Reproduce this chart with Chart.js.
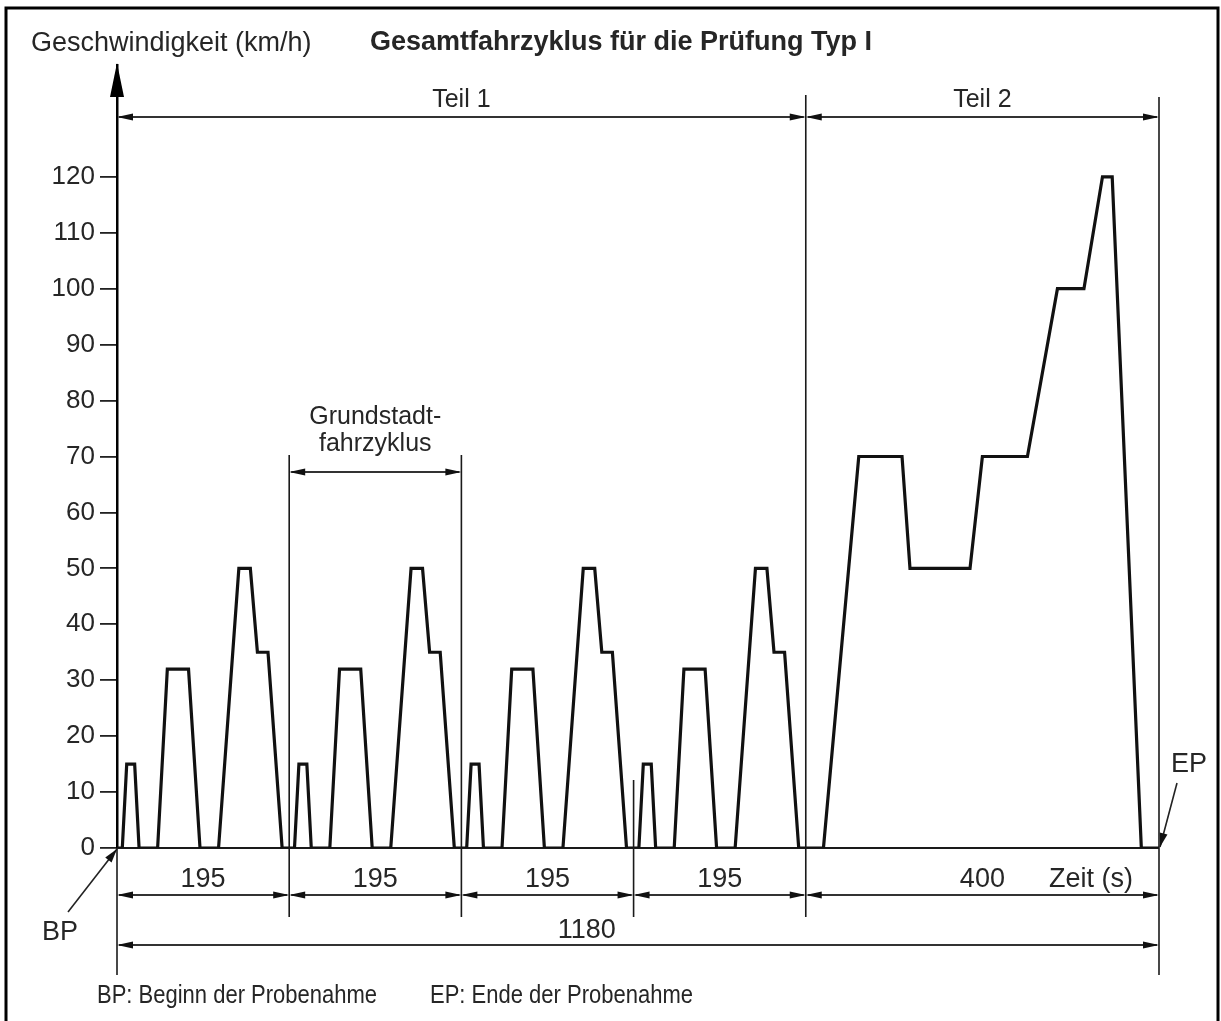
<!DOCTYPE html>
<html>
<head>
<meta charset="utf-8">
<script src="https://cdn.jsdelivr.net/npm/chart.js@4.4.1/dist/chart.umd.min.js"></script>
<style>
html,body{margin:0;padding:0;background:#fff;}
canvas{display:block;}
</style>
</head>
<body>
<canvas id="c" width="1221" height="1021"></canvas>
<script>
// ---- Data ----
const timeS = [
  0, 6, 11, 20, 25, 46, 57, 81, 94, 115, 138, 151, 159, 171, 187,
  195, 201, 206, 215, 220, 241, 252, 276, 289, 310, 333, 346, 354, 366, 382,
  390, 396, 401, 410, 415, 436, 447, 471, 484, 505, 528, 541, 549, 561, 577,
  585, 591, 596, 605, 610, 631, 642, 666, 679, 700, 723, 736, 744, 756, 772,
  780, 800, 840, 889, 898, 966, 980, 1031, 1065, 1095, 1116, 1127, 1160, 1180
];
const speedKmh = [
  0, 0, 15, 15, 0, 0, 32, 32, 0, 0, 50, 50, 35, 35, 0,
  0, 0, 15, 15, 0, 0, 32, 32, 0, 0, 50, 50, 35, 35, 0,
  0, 0, 15, 15, 0, 0, 32, 32, 0, 0, 50, 50, 35, 35, 0,
  0, 0, 15, 15, 0, 0, 32, 32, 0, 0, 50, 50, 35, 35, 0,
  0, 0, 70, 70, 50, 50, 70, 70, 100, 100, 120, 120, 0, 0
];
const yTickValues = [0, 10, 20, 30, 40, 50, 60, 70, 80, 90, 100, 110, 120];
const cycleBounds = [0, 195, 390, 585, 780, 1180];
const cycleLabels = ['195', '195', '195', '195', '400'];
const partBounds = [0, 780, 1180];
const partLabels = ['Teil 1', 'Teil 2'];
const baseCycleBounds = [195, 390];
const baseCycleLabel = ['Grundstadt-', 'fahrzyklus'];
const totalBounds = [0, 1180];
const totalLabel = '1180';
const totalLabelAt = 532;
const titleText = 'Gesamtfahrzyklus für die Prüfung Typ I';
const yTitleText = 'Geschwindigkeit (km/h)';
const xTitleText = 'Zeit (s)';
const footerTexts = ['BP: Beginn der Probenahme', 'EP: Ende der Probenahme'];
const markerTexts = ['BP', 'EP'];

const FONT = '"Liberation Sans", Arial, Helvetica, sans-serif';
const TXT = '#262626';
const LINE = '#1a1a1a';

function arrowHead(ctx, x, y, dir, len, hw) {
  ctx.beginPath();
  ctx.moveTo(x, y);
  ctx.lineTo(x - dir * len, y - hw);
  ctx.lineTo(x - dir * len, y + hw);
  ctx.closePath();
  ctx.fill();
}
function dimLine(ctx, x1, x2, y) {
  ctx.beginPath();
  ctx.moveTo(x1 + 2, y);
  ctx.lineTo(x2 - 2, y);
  ctx.stroke();
  arrowHead(ctx, x1, y, -1, 16, 3.5);
  arrowHead(ctx, x2, y, 1, 16, 3.5);
}
function vLine(ctx, x, y1, y2) {
  ctx.beginPath();
  ctx.moveTo(x, y1);
  ctx.lineTo(x, y2);
  ctx.stroke();
}
function slantArrow(ctx, x1, y1, x2, y2) {
  ctx.beginPath();
  ctx.moveTo(x1, y1);
  ctx.lineTo(x2, y2);
  ctx.stroke();
  const a = Math.atan2(y2 - y1, x2 - x1);
  const len = 14, hw = 4;
  ctx.beginPath();
  ctx.moveTo(x2, y2);
  ctx.lineTo(x2 - len * Math.cos(a) + hw * Math.sin(a), y2 - len * Math.sin(a) - hw * Math.cos(a));
  ctx.lineTo(x2 - len * Math.cos(a) - hw * Math.sin(a), y2 - len * Math.sin(a) + hw * Math.cos(a));
  ctx.closePath();
  ctx.fill();
}

const decorPlugin = {
  id: 'decor',
  beforeDatasetsDraw(chart) {
    const ctx = chart.ctx, xs = chart.scales.x, ys = chart.scales.y;
    const y0 = ys.getPixelForValue(0);
    ctx.save();
    ctx.strokeStyle = LINE;
    ctx.lineWidth = 2;
    ctx.beginPath();
    ctx.moveTo(xs.getPixelForValue(0), y0);
    ctx.lineTo(xs.getPixelForValue(1180), y0);
    ctx.stroke();
    ctx.restore();
  },
  afterDraw(chart) {
    const ctx = chart.ctx, xs = chart.scales.x, ys = chart.scales.y;
    const ca = chart.chartArea;
    const X = v => xs.getPixelForValue(v);
    const y0 = ys.getPixelForValue(0);
    ctx.save();

    // frame
    ctx.strokeStyle = '#000';
    ctx.lineWidth = 3;
    ctx.strokeRect(6, 8, 1212, 1100);

    // y axis arrow & extension
    ctx.fillStyle = '#000';
    ctx.beginPath();
    ctx.moveTo(ca.left, ca.top - 2);
    ctx.lineTo(ca.left - 7, ca.top + 32);
    ctx.lineTo(ca.left + 7, ca.top + 32);
    ctx.closePath();
    ctx.fill();
    ctx.strokeStyle = LINE;
    ctx.lineWidth = 1.6;
    vLine(ctx, ca.left, y0, y0 + 127);

    // titles
    ctx.fillStyle = TXT;
    ctx.textBaseline = 'alphabetic';
    ctx.font = '27px ' + FONT;
    ctx.textAlign = 'left';
    ctx.fillText(yTitleText, 31, 51);
    ctx.font = 'bold 27px ' + FONT;
    ctx.textAlign = 'center';
    ctx.fillText(titleText, 621, 50);

    // extension lines
    ctx.strokeStyle = LINE;
    ctx.lineWidth = 1.6;
    vLine(ctx, X(baseCycleBounds[0]), y0 - 393, y0 + 69);
    vLine(ctx, X(baseCycleBounds[1]), y0 - 393, y0 + 69);
    vLine(ctx, X(cycleBounds[3]), y0 - 68, y0 + 69);
    vLine(ctx, X(partBounds[1]), ca.top + 30, y0 + 69);
    vLine(ctx, X(partBounds[2]), ca.top + 32, y0 + 127);

    // dimension lines
    ctx.strokeStyle = '#333';
    ctx.fillStyle = '#111';
    ctx.lineWidth = 2;
    const yPart = ca.top + 52;
    for (let i = 0; i < partLabels.length; i++) {
      dimLine(ctx, X(partBounds[i]), X(partBounds[i + 1]), yPart);
    }
    const yBase = y0 - 376;
    dimLine(ctx, X(baseCycleBounds[0]), X(baseCycleBounds[1]), yBase);
    const ySeg = y0 + 47;
    for (let i = 0; i < cycleLabels.length; i++) {
      dimLine(ctx, X(cycleBounds[i]), X(cycleBounds[i + 1]), ySeg);
    }
    const yTot = y0 + 97;
    dimLine(ctx, X(totalBounds[0]), X(totalBounds[1]), yTot);

    // labels
    ctx.fillStyle = TXT;
    ctx.font = '25px ' + FONT;
    ctx.textAlign = 'center';
    for (let i = 0; i < partLabels.length; i++) {
      ctx.fillText(partLabels[i], (X(partBounds[i]) + X(partBounds[i + 1])) / 2, yPart - 10);
    }
    const bc = (X(baseCycleBounds[0]) + X(baseCycleBounds[1])) / 2;
    ctx.fillText(baseCycleLabel[0], bc, yBase - 48);
    ctx.fillText(baseCycleLabel[1], bc, yBase - 21);
    ctx.font = '27px ' + FONT;
    for (let i = 0; i < cycleLabels.length; i++) {
      ctx.fillText(cycleLabels[i], (X(cycleBounds[i]) + X(cycleBounds[i + 1])) / 2, ySeg - 8);
    }
    ctx.fillText(totalLabel, X(totalLabelAt), yTot - 7);
    ctx.textAlign = 'left';
    ctx.fillText(xTitleText, 1049, ySeg - 8);

    // BP / EP markers
    ctx.strokeStyle = '#222';
    ctx.fillStyle = '#111';
    ctx.lineWidth = 1.6;
    slantArrow(ctx, 68, y0 + 64, X(0), y0 + 1);
    slantArrow(ctx, X(1180) + 18, y0 - 65, X(1180) + 1, y0 - 1);
    ctx.fillStyle = TXT;
    ctx.font = '27px ' + FONT;
    ctx.textAlign = 'left';
    ctx.fillText(markerTexts[0], 42, y0 + 92);
    ctx.fillText(markerTexts[1], 1171, y0 - 76);

    // footer (condensed)
    ctx.font = '25px ' + FONT;
    const footerX = [97, 430];
    for (let i = 0; i < footerTexts.length; i++) {
      ctx.save();
      ctx.translate(footerX[i], 1003);
      ctx.scale(0.88, 1);
      ctx.fillText(footerTexts[i], 0, 0);
      ctx.restore();
    }
    ctx.restore();
  }
};

new Chart(document.getElementById('c'), {
  type: 'line',
  data: {
    datasets: [{
      data: timeS.map((t, i) => ({ x: t, y: speedKmh[i] })),
      borderColor: '#111',
      borderWidth: 3.2,
      borderJoinStyle: 'miter',
      pointRadius: 0,
      tension: 0,
      fill: false
    }]
  },
  options: {
    responsive: false,
    animation: false,
    events: [],
    layout: { padding: { left: 0, right: 62, top: 65, bottom: 173 } },
    plugins: { legend: { display: false }, tooltip: { enabled: false }, title: { display: false } },
    scales: {
      x: { type: 'linear', min: 0, max: 1180, display: false },
      y: {
        type: 'linear', min: 0, max: 140,
        afterBuildTicks: s => { s.ticks = yTickValues.map(v => ({ value: v })); },
        afterFit: s => { s.width = 117; },
        border: { display: true, color: '#000', width: 2.5 },
        grid: { drawOnChartArea: false, drawTicks: true, tickLength: 17, color: '#222', lineWidth: 1.8 },
        ticks: { color: TXT, padding: 5, font: { size: 26, family: FONT } }
      }
    }
  },
  plugins: [decorPlugin]
});
</script>
</body>
</html>
